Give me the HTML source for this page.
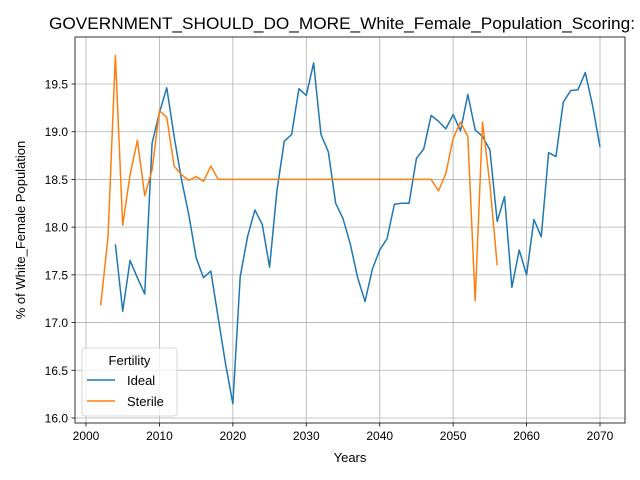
<!DOCTYPE html>
<html><head><meta charset="utf-8"><style>body{margin:0;background:#fff}svg{display:block;font-family:"Liberation Sans","DejaVu Sans",sans-serif}</style></head>
<body>
<svg id="chart" width="640" height="480"></svg>
<script>
const idealYears=[];for(let y=2004;y<=2070;y++)idealYears.push(y);
const idealValues=[17.82,17.12,17.65,17.47,17.30,18.88,19.2,19.46,18.95,18.5,18.13,17.68,17.47,17.54,17.05,16.57,16.15,17.48,17.9,18.18,18.03,17.58,18.38,18.9,18.97,19.45,19.38,19.72,18.97,18.79,18.25,18.09,17.82,17.47,17.22,17.56,17.76,17.88,18.24,18.25,18.25,18.72,18.82,19.17,19.11,19.03,19.18,19.01,19.39,19.02,18.95,18.81,18.06,18.32,17.37,17.76,17.5,18.08,17.9,18.78,18.74,19.31,19.43,19.44,19.62,19.27,18.84];
const sterileYears=[];for(let y=2002;y<=2056;y++)sterileYears.push(y);
const sterileValues=[17.18,17.9,19.8,18.02,18.55,18.91,18.33,18.6,19.22,19.15,18.64,18.55,18.49,18.53,18.48,18.64,18.5,18.5,18.5,18.5,18.5,18.5,18.5,18.5,18.5,18.5,18.5,18.5,18.5,18.5,18.5,18.5,18.5,18.5,18.5,18.5,18.5,18.5,18.5,18.5,18.5,18.5,18.5,18.5,18.5,18.5,18.38,18.56,18.93,19.1,18.95,17.23,19.1,18.45,17.6];
const xTicks=[2000,2010,2020,2030,2040,2050,2060,2070];
const yTicks=[16.0,16.5,17.0,17.5,18.0,18.5,19.0,19.5];
const L=75,R=625,T=37,B=423;
const xs=v=>86+(v-2000)*(514/70);
const ys=v=>418-(v-16)*(334/3.5);
const svg=document.getElementById('chart');const NS='http://www.w3.org/2000/svg';
function mk(t,a,p){const e=document.createElementNS(NS,t);for(const k in a)e.setAttribute(k,a[k]);(p||svg).appendChild(e);return e;}
let e;
e=mk('text',{x:49,y:29,'font-size':17,textLength:586,lengthAdjust:'spacingAndGlyphs',fill:'#000'});e.textContent='GOVERNMENT_SHOULD_DO_MORE_White_Female_Population_Scoring:';


xTicks.forEach(t=>{const x=xs(t);
e=mk('line',{x1:x,x2:x,y1:T,y2:B,stroke:'#b0b0b0','stroke-width':0.8});


mk('line',{x1:x,x2:x,y1:B,y2:B+3.5,stroke:'#000','stroke-width':0.8});
e=mk('text',{x:x,y:B+17,'font-size':12,'text-anchor':'middle'});e.textContent=t;

});
yTicks.forEach(t=>{const y=ys(t);
e=mk('line',{x1:L,x2:R,y1:y,y2:y,stroke:'#b0b0b0','stroke-width':0.8});


mk('line',{x1:L-3.5,x2:L,y1:y,y2:y,stroke:'#000','stroke-width':0.8});
e=mk('text',{x:L-7,y:y+4.5,'font-size':12,'text-anchor':'end'});e.textContent=t.toFixed(1);

});
function series(xv,yv,c,n){e=mk('polyline',{points:xv.map((x,i)=>xs(x)+','+ys(yv[i])).join(' '),fill:'none',stroke:c,'stroke-width':1.5,'stroke-linejoin':'round'});

}
series(idealYears,idealValues,'#1f77b4','ideal-line');
series(sterileYears,sterileValues,'#ff7f0e','sterile-line');
e=mk('rect',{x:L,y:T,width:R-L,height:B-T,fill:'none',stroke:'#000','stroke-width':0.8});


e=mk('text',{x:350,y:462,'font-size':13,'text-anchor':'middle'});e.textContent='Years';


e=mk('text',{x:0,y:0,'font-size':13,'text-anchor':'middle',transform:'translate(25,230) rotate(-90)'});e.textContent='% of White_Female Population';


const g=mk('g',{});


mk('rect',{x:82,y:348,width:95,height:68,rx:3,fill:'#fff','fill-opacity':0.8,stroke:'#ccc','stroke-width':0.8},g);
e=mk('text',{x:129.5,y:365,'font-size':13,'text-anchor':'middle'},g);e.textContent='Fertility';


[['Ideal','#1f77b4',380],['Sterile','#ff7f0e',401]].forEach(([n,c,y])=>{
mk('line',{x1:87,x2:115,y1:y,y2:y,stroke:c,'stroke-width':1.5},g);
e=mk('text',{x:127,y:y+5,'font-size':13},g);e.textContent=n;

});
</script>
</body></html>
